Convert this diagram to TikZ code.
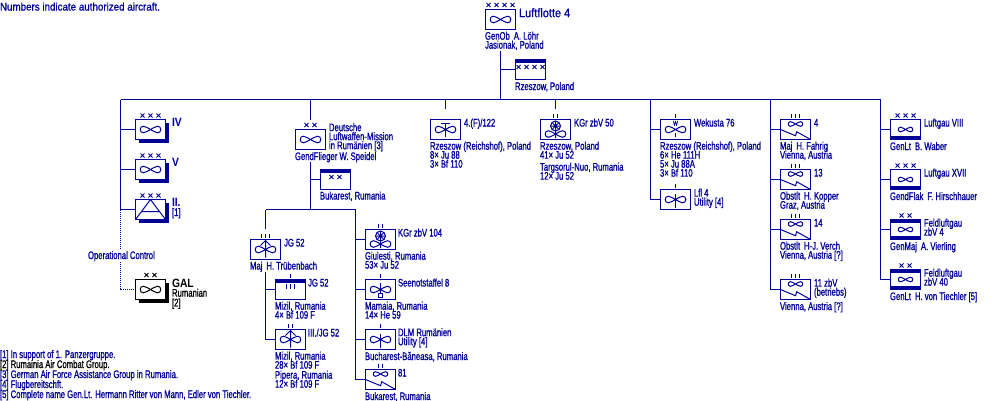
\documentclass[tikz,border=0pt]{standalone}
\usepackage{fontspec}
\setmainfont[FakeStretch=0.70,FakeBold=1]{Liberation Sans}
\newfontfamily\widefont[FakeStretch=0.89,FakeBold=1]{Liberation Sans}
\newfontfamily\heavyfont[FakeStretch=0.86]{Liberation Sans Bold}
\usetikzlibrary{shadows}
\newlength{\du}
\setlength{\du}{0.6pt}
\lineskiplimit=-10pt
\definecolor{navyline}{rgb}{0.000000, 0.000000, 0.600000}
\tikzset{
  unitbox/.style={draw, fill=white, minimum width=30\du, minimum height=20\du, inner sep=0pt, outer sep=0pt},
  heavybox/.style={unitbox, drop shadow={shadow xshift=3.4\du, shadow yshift=-3.4\du, fill=navyline, opacity=1}},
  blackbox/.style={unitbox, draw=black, drop shadow={shadow xshift=3.4\du, shadow yshift=-3.4\du, fill=black, opacity=1}},
  lbl/.style={anchor=north west, inner sep=0pt, outer sep=0pt, align=left, yshift=4.3\du, navyline,
    font=\fontsize{6.6}{5.4}\selectfont, execute at begin node={\rule{0pt}{5pt}}},
  heavylbl/.style={lbl, font=\fontsize{7.2}{5.4}\heavyfont},
  opline/.style={dash pattern=on 1\du off 1\du},
  prop/.pic={
    \foreach \side in {-1,1}
      \draw[xscale=\side] (0,0) .. controls (2.5,-0.6) and (4,-3.3) .. (7,-3.3) .. controls (9,-3.3) and (10.3,-2) .. (10.3,0)
        .. controls (10.3,2) and (9,3.3) .. (7,3.3) .. controls (4,3.3) and (2.5,0.6) .. (0,0);
  },
  smallprop/.pic={\pic[scale=0.7] {prop};},
  xmark/.pic={\draw (-2,-2) -- (2,2) (-2,2) -- (2,-2);},
  stemprop/.pic={\pic {prop}; \draw (0,-6) -- (0,8);},
  fighter/.pic={
    \pic {prop};
    \draw (0,-9) -- (0,8) (-5,-4) -- (0,-9) -- (5,-4);
  },
  recon/.pic={
    \pic {prop};
    \draw (0,-6.5) -- (0,7.5) (-4.5,-6.5) -- (4.5,-6.5);
  },
  seaprop/.pic={
    \pic {prop};
    \draw (0,-7) -- (0,3.5);
    \draw (-2,3.5) rectangle (2,7.5);
  },
  wheelprop/.pic={
    \pic at (0,4.5) {prop};
    \draw (0,-3.5) circle (5);
    \draw (0,-8.5) -- (0,8.5) (-5,-3.5) -- (5,-3.5) (-3.5,-7) -- (3.5,0) (-3.5,0) -- (3.5,-7);
    \fill (0,-3.5) circle (1.5);
  },
  transport/.pic={
    \pic[scale=0.7] at (0,-5.5) {prop};
    \draw (-15,0) -- (0,6.2) -- (1.2,2.2) -- (15,10);
  },
  flak/.pic={
    \draw (-15,10) -- (0,-10) -- (15,10) (-9,2) -- (9,2);
  },
}
\newcommand{\crosses}[3]{\foreach \k in {1,...,#2} \pic at ([xshift={(\k-0.5*#2-0.5)*8\du}, yshift=#3\du]#1.north) {xmark};}
\newcommand{\ticks}[3]{\foreach \k in {1,...,#2} \draw ([xshift={(\k-0.5*#2-0.5)*4\du}, yshift=#3\du]#1.north) -- ++(0,4.5);}
\newcommand{\topbar}[1]{\fill ([yshift=-3.5\du]#1.north west) rectangle (#1.north east);}
\newcommand{\botbar}[1]{\fill ([yshift=3.5\du]#1.south west) rectangle (#1.south east);}

\begin{document}
\begin{tikzpicture}[x=1\du, y=-1\du, line width=1\du, navyline]
\useasboundingbox (0,0) rectangle (1000,400);
\node[lbl, font=\fontsize{6.6}{5.4}\widefont] (note) at (0,6.5) {Numbers indicate authorized aircraft.};
% command
\node[unitbox] (luftflotte) at (500.5,19.5) {};
\node[unitbox] (flottehq) at (530.5,69.5) {};
\pic at (luftflotte.center) {prop};
\topbar{flottehq}
\crosses{luftflotte}{4}{4.5}
\crosses{flottehq}{4}{-7.5}
\node[lbl, font=\fontsize{7.4}{5.4}\widefont] (flottetxt) at (519,12.5) {Luftflotte 4};
\node[lbl] (flottecmd) at (485,36) {GenOb\, A. Löhr\\Jasionak, Poland};
\node[lbl] (flottehqtxt) at (515,86) {Rzeszow, Poland};
\coordinate (flottedown) at (500.5,51);
\coordinate (busW) at (120.5,99.5);
\coordinate (busE) at (880.5,99.5);
\draw (busW) -- (busE);
\draw (flottedown) -- (flottedown |- busW);
\draw (flottedown |- flottehq.west) -- (flottehq.west);
% left column
\node[heavybox] (korpsiv) at (150.5,129.5) {};
\node[heavybox] (korpsv) at (150.5,169.5) {};
\node[heavybox] (korpsii) at (150.5,209.5) {};
\node[blackbox] (gal) at (150.5,289.5) {};
\pic at (korpsiv.center) {prop};
\pic at (korpsv.center) {prop};
\pic at (korpsii.center) {flak};
\begin{scope}[black]
\pic at (gal.center) {prop};
\crosses{gal}{2}{4.5}
\end{scope}
\crosses{korpsiv}{3}{4}
\crosses{korpsv}{3}{4}
\crosses{korpsii}{3}{4}
\node[heavylbl] (korpsivtxt) at (172,122.5) {IV};
\node[heavylbl] (korpsvtxt) at (172,162.5) {V};
\node[heavylbl] (korpsiitxt) at (172,202.5) {II.};
\node[lbl] (korpsiinote) at (172,212) {[1]};
\node[heavylbl, black] (galtxt) at (172,283) {GAL};
\node[lbl, black] (galnote) at (172,293) {Rumanian\\[0.8\du][2]};
\draw (busW) |- (korpsii.west);
\draw (busW |- korpsiv.west) -- (korpsiv.west);
\draw (busW |- korpsv.west) -- (korpsv.west);
\draw[opline] (busW |- korpsii.west) |- (gal.west);
\node[lbl, anchor=west, yshift=-4.3\du, fill=white, inner xsep=1\du, inner ysep=1\du] (optxt) at (87,256) {Operational Control};
% mission
\node[unitbox] (mission) at (310.5,139.5) {};
\node[unitbox] (missionhq) at (335.5,179.5) {};
\pic at (mission.center) {prop};
\topbar{missionhq}
\crosses{mission}{2}{4.5}
\crosses{missionhq}{2}{-7.5}
\node[lbl] (missiontxt) at (329,127.5) {Deutsche\\Luftwaffen-Mission\\in Rumänien [3]};
\node[lbl] (missioncmd) at (295,156) {GendFlieger W. Speidel};
\node[lbl] (missionhqtxt) at (320,195.5) {Bukarest, Rumania};
\coordinate (missionup) at (310.5,120);
\coordinate (missiondown) at (310.5,162);
\coordinate (groupW) at (265.5,209.5);
\coordinate (groupE) at (355.5,209.5);
\draw (missionup |- busW) -- (missionup);
\draw (missiondown) -- (missiondown |- groupW);
\draw (groupW) -- (groupE);
\draw (missiondown |- missionhq.west) -- (missionhq.west);
% fighters
\node[unitbox] (jgstab) at (265.5,249.5) {};
\node[unitbox] (jgstabhq) at (290.5,289.5) {};
\node[unitbox] (jgiii) at (290.5,339.5) {};
\pic at (jgstab.center) {fighter};
\pic at (jgiii.center) {fighter};
\topbar{jgstabhq}
\ticks{jgstab}{3}{6}
\ticks{jgstabhq}{1}{6}
\ticks{jgstabhq}{3}{-4.5}
\ticks{jgiii}{2}{6}
\coordinate (jgup) at (265.5,229);
\node[lbl] (jgstabtxt) at (284,242.5) {JG 52};
\node[lbl] (jgstabcmd) at (250,265.5) {Maj\, H. Trübenbach};
\node[lbl] (jgstabhqtxt) at (308,282.5) {JG 52};
\node[lbl] (jgstabbase) at (275,306) {Mizil, Rumania\\4× Bf 109 F};
\node[lbl] (jgiiitxt) at (308,332.5) {III./JG 52};
\node[lbl] (jgiiibase) at (275,356) {Mizil, Rumania\\28× Bf 109 F};
\node[lbl] (jgiiisecond) at (275,375) {Pipera, Rumania\\12× Bf 109 F};
\coordinate (jgdown) at (265.5,272);
\draw (groupW) -- (jgup);
\draw (jgdown) |- (jgiii.west);
\draw (jgdown |- jgstabhq.west) -- (jgstabhq.west);
% bucharest units
\node[unitbox] (kgrciv) at (380.5,239.5) {};
\node[unitbox] (seenot) at (380.5,289.5) {};
\node[unitbox] (dlm) at (380.5,339.5) {};
\node[unitbox] (staffel) at (380.5,379.5) {};
\pic at (kgrciv.center) {wheelprop};
\pic at (seenot.center) {seaprop};
\pic at (dlm.center) {stemprop};
\pic at (staffel.center) {transport};
\ticks{kgrciv}{2}{6}
\ticks{seenot}{1}{6}
\ticks{dlm}{1}{6}
\ticks{staffel}{2}{6}
\node[lbl] (kgrcivtxt) at (398,232.5) {KGr zbV 104};
\node[lbl] (kgrcivbase) at (365,256) {Giulesti, Rumania\\53× Ju 52};
\node[lbl] (seenottxt) at (398,282.5) {Seenotstaffel 8};
\node[lbl] (seenotbase) at (365,306) {Mamaia, Rumania\\14× He 59};
\node[lbl] (dlmtxt) at (398,332.5) {DLM Rumänien\\Utility [4]};
\node[lbl] (dlmbase) at (365,356) {Bucharest-Băneasa, Rumania};
\node[lbl] (staffeltxt) at (398,372.5) {81};
\node[lbl] (staffelbase) at (365,396) {Bukarest, Rumania};
\draw (groupE) |- (staffel.west);
\draw (groupE |- kgrciv.west) -- (kgrciv.west);
\draw (groupE |- seenot.west) -- (seenot.west);
\draw (groupE |- dlm.west) -- (dlm.west);
% reconnaissance and transport
\node[unitbox] (recon) at (445.5,129.5) {};
\node[unitbox] (kgrl) at (555.5,129.5) {};
\pic at (recon.center) {recon};
\pic at (kgrl.center) {wheelprop};
\ticks{kgrl}{2}{6}
\node[lbl] (recontxt) at (464,122.5) {4.(F)/122};
\node[lbl] (reconbase) at (430,146) {Rzeszow (Reichshof), Poland\\8× Ju 88\\3× Bf 110};
\node[lbl] (kgrltxt) at (574,122.5) {KGr zbV 50};
\node[lbl] (kgrlbase) at (540,146) {Rzeszow, Poland\\41× Ju 52};
\node[lbl] (kgrlsecond) at (540,167) {Targsorul-Nuo, Rumania\\12× Ju 52};
\coordinate (reconup) at (445.5,109);
\coordinate (kgrlup) at (555.5,109);
\draw (reconup |- busW) -- (reconup);
\draw (kgrlup |- busW) -- (kgrlup);
% weather and utility
\node[unitbox] (wekusta) at (675.5,129.5) {};
\node[unitbox] (lfl) at (675.5,199.5) {};
\pic at (wekusta.center) {prop};
\draw ([yshift=-3.5\du]wekusta.center) -- ([yshift=3\du]wekusta.south);
\node[inner sep=0pt, font=\fontsize{4.2}{5}\selectfont] (wekustaw) at (675.5,123.2) {W};
\pic at (lfl.center) {stemprop};
\ticks{wekusta}{1}{6}
\ticks{lfl}{1}{6}
\node[lbl] (wekustatxt) at (694,122.5) {Wekusta 76};
\node[lbl] (wekustabase) at (660,146) {Rzeszow (Reichshof), Poland\\6× He 111H\\5× Ju 88A\\3× Bf 110};
\node[lbl] (lfltxt) at (694,193) {Lfl 4\\Utility [4]};
\coordinate (wekustabus) at (650.5,99.5);
\draw (wekustabus) |- (lfl.west);
\draw (wekustabus |- wekusta.west) -- (wekusta.west);
% transport groups
\node[unitbox] (kgriv) at (795.5,129.5) {};
\node[unitbox] (kgrxiii) at (795.5,179.5) {};
\node[unitbox] (kgrxiv) at (795.5,229.5) {};
\node[unitbox] (kgrxi) at (795.5,289.5) {};
\foreach \n in {kgriv,kgrxiii,kgrxiv,kgrxi} {
  \pic at (\n.center) {transport};
  \ticks{\n}{3}{6}
}
\node[lbl] (kgrivtxt) at (814,122.5) {4};
\node[lbl] (kgrivbase) at (780,146) {Maj\, H. Fahrig\\Vienna, Austria};
\node[lbl] (kgrxiiitxt) at (814,172.5) {13};
\node[lbl] (kgrxiiibase) at (780,196) {Obstlt\, H. Kopper\\Graz, Austria};
\node[lbl] (kgrxivtxt) at (814,222.5) {14};
\node[lbl] (kgrxivbase) at (780,246) {Obstlt\, H-J. Verch\\Vienna, Austria [?]};
\node[lbl] (kgrxitxt) at (814,283) {11 zbV\\(betriebs)};
\node[lbl] (kgrxibase) at (780,306) {Vienna, Austria [?]};
\coordinate (kgrbus) at (770.5,99.5);
\draw (kgrbus) |- (kgrxi.west);
\draw (kgrbus |- kgriv.west) -- (kgriv.west);
\draw (kgrbus |- kgrxiii.west) -- (kgrxiii.west);
\draw (kgrbus |- kgrxiv.west) -- (kgrxiv.west);
% air districts
\node[unitbox] (gauviii) at (905.5,129.5) {};
\node[unitbox] (gauxvii) at (905.5,179.5) {};
\node[unitbox] (gauiv) at (905.5,229.5) {};
\node[unitbox] (gauxl) at (905.5,279.5) {};
\foreach \n in {gauviii,gauxvii,gauiv,gauxl} {
  \pic at (\n.center) {smallprop};
  \botbar{\n}
}
\topbar{gauiv}
\topbar{gauxl}
\crosses{gauviii}{3}{4}
\crosses{gauxvii}{3}{4}
\crosses{gauiv}{2}{4}
\crosses{gauxl}{2}{4}
\node[lbl] (gauviiitxt) at (924,122.5) {Luftgau VIII};
\node[lbl] (gauviiicmd) at (890,146) {GenLt\, B. Waber};
\node[lbl] (gauxviitxt) at (924,172.5) {Luftgau XVII};
\node[lbl] (gauxviicmd) at (890,196) {GendFlak\, F. Hirschhauer};
\node[lbl] (gauivtxt) at (924,223) {Feldluftgau\\zbV 4};
\node[lbl] (gauivcmd) at (890,246) {GenMaj\, A. Vierling};
\node[lbl] (gauxltxt) at (924,273) {Feldluftgau\\zbV 40};
\node[lbl] (gauxlcmd) at (890,296) {GenLt\, H. von Tiechler [5]};
\draw (busE) |- (gauxl.west);
\draw (busE |- gauviii.west) -- (gauviii.west);
\draw (busE |- gauxvii.west) -- (gauxvii.west);
\draw (busE |- gauiv.west) -- (gauiv.west);
% footnotes
\node[lbl] (fnone) at (0,354) {[1] In support of 1. Panzergruppe.};
\node[lbl, black] (fntwo) at (0,364) {[2] Rumainia Air Combat Group.};
\node[lbl] (fnthree) at (0,374) {[3] German Air Force Assistance Group in Rumania.};
\node[lbl] (fnfour) at (0,384) {[4] Flugbereitschft.};
\node[lbl] (fnfive) at (0,394) {[5] Complete name Gen.Lt. Hermann Ritter von Mann, Edler von Tiechler.};
\end{tikzpicture}
\end{document}
